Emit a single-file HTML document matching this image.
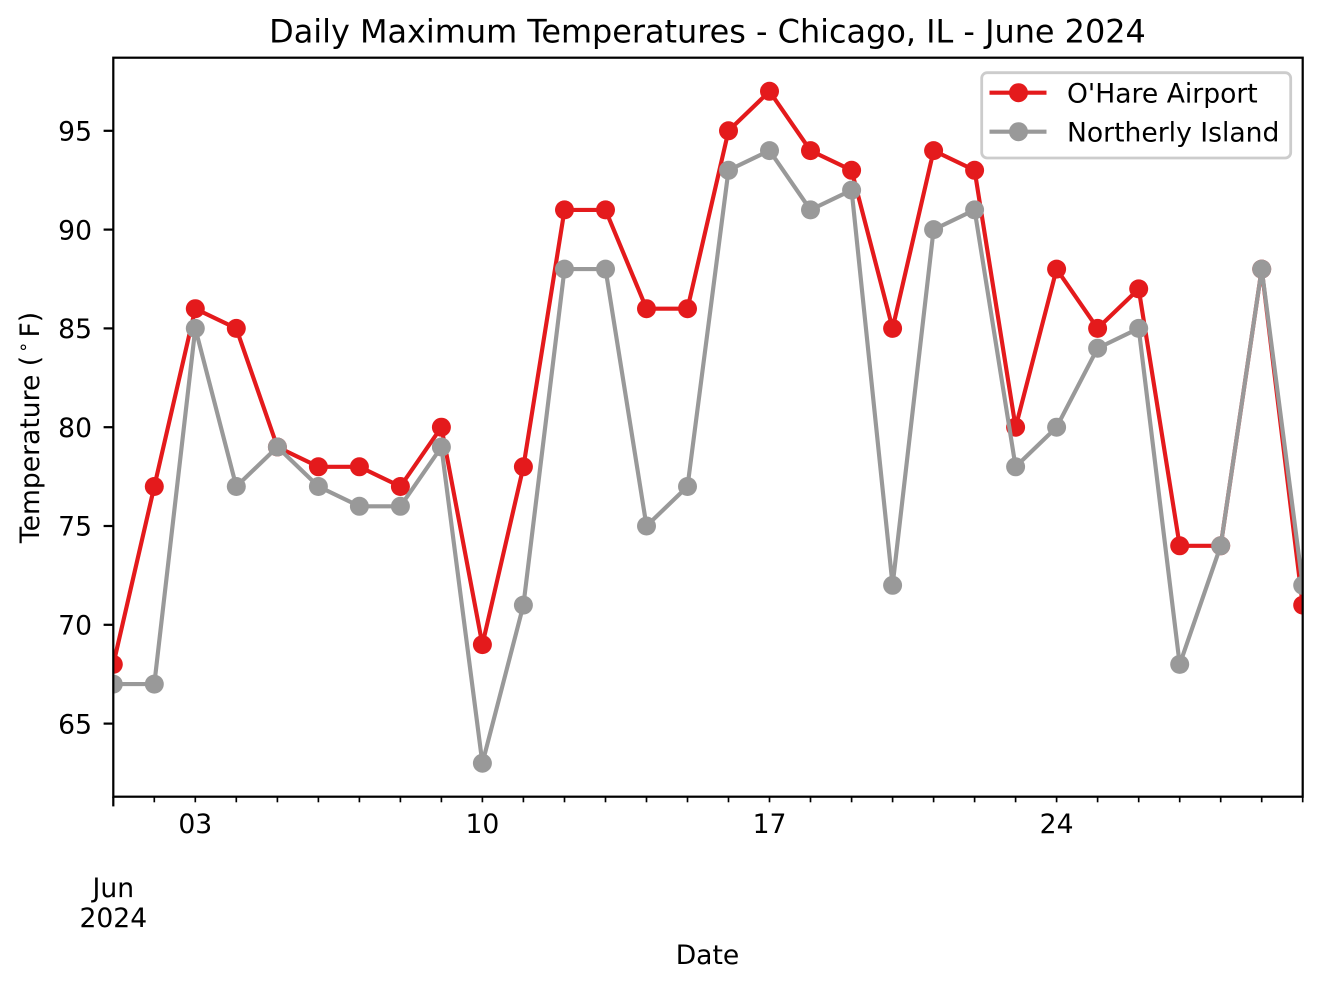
<!DOCTYPE html>
<html>
<head>
<meta charset="utf-8">
<style>
html,body{margin:0;padding:0;background:#fff;}
svg{display:block;}
text{font-family:"DejaVu Sans","Liberation Sans",sans-serif;fill:#000;}
</style>
</head>
<body>
<svg width="1322" height="988" viewBox="0 0 1322 988" xmlns="http://www.w3.org/2000/svg">
<rect x="0" y="0" width="1322" height="988" fill="#fff"/>
<defs>
<clipPath id="ax"><rect x="113.3" y="57.7" width="1189.4" height="739"/></clipPath>
</defs>

<!-- title -->
<text x="707.5" y="42.5" font-size="31.9" text-anchor="middle">Daily Maximum Temperatures - Chicago, IL - June 2024</text>

<g clip-path="url(#ax)">
<polyline fill="none" stroke="#e41a1c" stroke-width="4.17" stroke-linejoin="round" stroke-linecap="square" points="113.3,664.4 154.3,486.5 195.3,308.7 236.3,328.4 277.4,447.0 318.4,466.8 359.4,466.8 400.4,486.5 441.4,427.2 482.4,644.6 523.4,466.8 564.5,209.9 605.5,209.9 646.5,308.7 687.5,308.7 728.5,130.8 769.5,91.3 810.5,150.6 851.6,170.3 892.6,328.4 933.6,150.6 974.6,170.3 1015.6,427.2 1056.6,269.1 1097.6,328.4 1138.7,288.9 1179.7,545.8 1220.7,545.8 1261.7,269.1 1302.7,605.1"/>
<g fill="#e41a1c">
<circle cx="113.3" cy="664.4" r="9.5"/><circle cx="154.3" cy="486.5" r="9.5"/><circle cx="195.3" cy="308.7" r="9.5"/><circle cx="236.3" cy="328.4" r="9.5"/><circle cx="277.4" cy="447.0" r="9.5"/><circle cx="318.4" cy="466.8" r="9.5"/><circle cx="359.4" cy="466.8" r="9.5"/><circle cx="400.4" cy="486.5" r="9.5"/><circle cx="441.4" cy="427.2" r="9.5"/><circle cx="482.4" cy="644.6" r="9.5"/><circle cx="523.4" cy="466.8" r="9.5"/><circle cx="564.5" cy="209.9" r="9.5"/><circle cx="605.5" cy="209.9" r="9.5"/><circle cx="646.5" cy="308.7" r="9.5"/><circle cx="687.5" cy="308.7" r="9.5"/><circle cx="728.5" cy="130.8" r="9.5"/><circle cx="769.5" cy="91.3" r="9.5"/><circle cx="810.5" cy="150.6" r="9.5"/><circle cx="851.6" cy="170.3" r="9.5"/><circle cx="892.6" cy="328.4" r="9.5"/><circle cx="933.6" cy="150.6" r="9.5"/><circle cx="974.6" cy="170.3" r="9.5"/><circle cx="1015.6" cy="427.2" r="9.5"/><circle cx="1056.6" cy="269.1" r="9.5"/><circle cx="1097.6" cy="328.4" r="9.5"/><circle cx="1138.7" cy="288.9" r="9.5"/><circle cx="1179.7" cy="545.8" r="9.5"/><circle cx="1220.7" cy="545.8" r="9.5"/><circle cx="1261.7" cy="269.1" r="9.5"/><circle cx="1302.7" cy="605.1" r="9.5"/>
</g>
<polyline fill="none" stroke="#999999" stroke-width="4.17" stroke-linejoin="round" stroke-linecap="square" points="113.3,684.1 154.3,684.1 195.3,328.4 236.3,486.5 277.4,447.0 318.4,486.5 359.4,506.3 400.4,506.3 441.4,447.0 482.4,763.2 523.4,605.1 564.5,269.1 605.5,269.1 646.5,526.0 687.5,486.5 728.5,170.3 769.5,150.6 810.5,209.9 851.6,190.1 892.6,585.3 933.6,229.6 974.6,209.9 1015.6,466.8 1056.6,427.2 1097.6,348.2 1138.7,328.4 1179.7,664.4 1220.7,545.8 1261.7,269.1 1302.7,585.3"/>
<g fill="#999999">
<circle cx="113.3" cy="684.1" r="9.5"/><circle cx="154.3" cy="684.1" r="9.5"/><circle cx="195.3" cy="328.4" r="9.5"/><circle cx="236.3" cy="486.5" r="9.5"/><circle cx="277.4" cy="447.0" r="9.5"/><circle cx="318.4" cy="486.5" r="9.5"/><circle cx="359.4" cy="506.3" r="9.5"/><circle cx="400.4" cy="506.3" r="9.5"/><circle cx="441.4" cy="447.0" r="9.5"/><circle cx="482.4" cy="763.2" r="9.5"/><circle cx="523.4" cy="605.1" r="9.5"/><circle cx="564.5" cy="269.1" r="9.5"/><circle cx="605.5" cy="269.1" r="9.5"/><circle cx="646.5" cy="526.0" r="9.5"/><circle cx="687.5" cy="486.5" r="9.5"/><circle cx="728.5" cy="170.3" r="9.5"/><circle cx="769.5" cy="150.6" r="9.5"/><circle cx="810.5" cy="209.9" r="9.5"/><circle cx="851.6" cy="190.1" r="9.5"/><circle cx="892.6" cy="585.3" r="9.5"/><circle cx="933.6" cy="229.6" r="9.5"/><circle cx="974.6" cy="209.9" r="9.5"/><circle cx="1015.6" cy="466.8" r="9.5"/><circle cx="1056.6" cy="427.2" r="9.5"/><circle cx="1097.6" cy="348.2" r="9.5"/><circle cx="1138.7" cy="328.4" r="9.5"/><circle cx="1179.7" cy="664.4" r="9.5"/><circle cx="1220.7" cy="545.8" r="9.5"/><circle cx="1261.7" cy="269.1" r="9.5"/><circle cx="1302.7" cy="585.3" r="9.5"/>
</g>
</g>

<!-- spines -->
<rect x="113.3" y="57.7" width="1189.4" height="739" fill="none" stroke="#000" stroke-width="2.22" stroke-linejoin="miter"/>

<!-- y ticks -->
<g stroke="#000" stroke-width="2.22">
<line x1="103.6" y1="723.6" x2="113.3" y2="723.6"/>
<line x1="103.6" y1="624.8" x2="113.3" y2="624.8"/>
<line x1="103.6" y1="526.0" x2="113.3" y2="526.0"/>
<line x1="103.6" y1="427.2" x2="113.3" y2="427.2"/>
<line x1="103.6" y1="328.4" x2="113.3" y2="328.4"/>
<line x1="103.6" y1="229.6" x2="113.3" y2="229.6"/>
<line x1="103.6" y1="130.8" x2="113.3" y2="130.8"/>
</g>
<g font-size="26.6" text-anchor="end">
<text x="92" y="733.3">65</text>
<text x="92" y="634.5">70</text>
<text x="92" y="535.7">75</text>
<text x="92" y="436.9">80</text>
<text x="92" y="338.1">85</text>
<text x="92" y="239.3">90</text>
<text x="92" y="140.5">95</text>
</g>

<!-- x ticks -->
<line x1="113.3" y1="796.7" x2="113.3" y2="806.4" stroke="#000" stroke-width="2.22"/>
<g stroke="#000" stroke-width="1.67">
<line x1="154.3" y1="796.7" x2="154.3" y2="802.3"/><line x1="195.3" y1="796.7" x2="195.3" y2="802.3"/><line x1="236.3" y1="796.7" x2="236.3" y2="802.3"/><line x1="277.4" y1="796.7" x2="277.4" y2="802.3"/><line x1="318.4" y1="796.7" x2="318.4" y2="802.3"/><line x1="359.4" y1="796.7" x2="359.4" y2="802.3"/><line x1="400.4" y1="796.7" x2="400.4" y2="802.3"/><line x1="441.4" y1="796.7" x2="441.4" y2="802.3"/><line x1="482.4" y1="796.7" x2="482.4" y2="802.3"/><line x1="523.4" y1="796.7" x2="523.4" y2="802.3"/><line x1="564.5" y1="796.7" x2="564.5" y2="802.3"/><line x1="605.5" y1="796.7" x2="605.5" y2="802.3"/><line x1="646.5" y1="796.7" x2="646.5" y2="802.3"/><line x1="687.5" y1="796.7" x2="687.5" y2="802.3"/><line x1="728.5" y1="796.7" x2="728.5" y2="802.3"/><line x1="769.5" y1="796.7" x2="769.5" y2="802.3"/><line x1="810.5" y1="796.7" x2="810.5" y2="802.3"/><line x1="851.6" y1="796.7" x2="851.6" y2="802.3"/><line x1="892.6" y1="796.7" x2="892.6" y2="802.3"/><line x1="933.6" y1="796.7" x2="933.6" y2="802.3"/><line x1="974.6" y1="796.7" x2="974.6" y2="802.3"/><line x1="1015.6" y1="796.7" x2="1015.6" y2="802.3"/><line x1="1056.6" y1="796.7" x2="1056.6" y2="802.3"/><line x1="1097.6" y1="796.7" x2="1097.6" y2="802.3"/><line x1="1138.7" y1="796.7" x2="1138.7" y2="802.3"/><line x1="1179.7" y1="796.7" x2="1179.7" y2="802.3"/><line x1="1220.7" y1="796.7" x2="1220.7" y2="802.3"/><line x1="1261.7" y1="796.7" x2="1261.7" y2="802.3"/><line x1="1302.7" y1="796.7" x2="1302.7" y2="802.3"/>
</g>
<g font-size="26.6" text-anchor="middle">
<text x="195.3" y="833">03</text>
<text x="482.4" y="833">10</text>
<text x="769.5" y="833">17</text>
<text x="1056.6" y="833">24</text>
<text x="113.3" y="897">Jun</text>
<text x="113.3" y="927">2024</text>
<text x="707.5" y="964">Date</text>
</g>

<!-- y label -->
<text font-size="26.6" text-anchor="middle" transform="translate(39,427.5) rotate(-90)">Temperature (<tspan font-size="18" dx="3" dy="-10">∘</tspan><tspan dx="4" dy="10">F)</tspan></text>

<!-- legend -->
<rect x="981.7" y="72.7" width="309" height="85.3" rx="5.5" ry="5.5" fill="#fff" fill-opacity="0.8" stroke="#cccccc" stroke-width="2.78"/>
<line x1="989.5" y1="92.7" x2="1046.5" y2="92.7" stroke="#e41a1c" stroke-width="4.17"/>
<circle cx="1018.5" cy="92.7" r="9.5" fill="#e41a1c"/>
<line x1="989.5" y1="131.7" x2="1046.5" y2="131.7" stroke="#999999" stroke-width="4.17"/>
<circle cx="1018.5" cy="131.7" r="9.5" fill="#999999"/>
<text x="1067" y="102.4" font-size="26.6">O'Hare Airport</text>
<text x="1067" y="141.4" font-size="26.6">Northerly Island</text>
</svg>
</body>
</html>
